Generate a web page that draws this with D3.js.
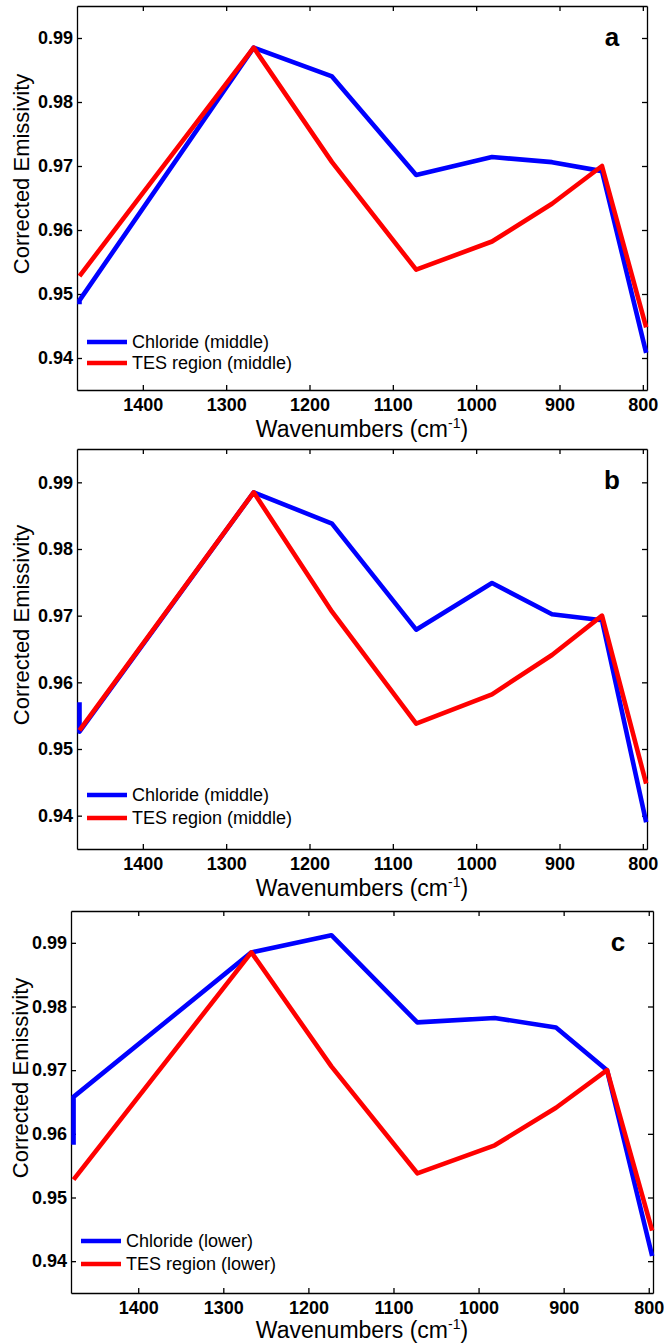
<!DOCTYPE html>
<html>
<head>
<meta charset="utf-8">
<script src="https://cdn.jsdelivr.net/npm/d3@7"></script>
<style>
    body { margin: 0; background: #fff; }
    text { font-family: "Liberation Sans", Arial, Helvetica, sans-serif; fill: #000; }
    .tick text { font-weight: bold; font-size: 18px; }
    .axis path, .axis line { stroke: #000; stroke-width: 1.3; }
</style>
</head>
<body>
<script>
//band centres (cm-1); the chloride curves repeat the first band
var tesWavenumbers = [1476, 1267, 1173, 1072, 981, 909, 849, 796];
var chlorideWavenumbers = [1476, 1476, 1267, 1173, 1072, 981, 909, 849, 796];

//TES region emissivity (same in all three panels)
var tesRegion = [0.9528, 0.9885, 0.9706, 0.9538, 0.9582, 0.9641, 0.9700, 0.9448];

//chloride emissivity per panel
var chlorideA = [0.9484, 0.9490, 0.9885, 0.9840, 0.9686, 0.9714, 0.9706, 0.9692, 0.9408];
var chlorideB = [0.9570, 0.9526, 0.9885, 0.9838, 0.9679, 0.9749, 0.9702, 0.9693, 0.9390];
var chlorideC = [0.9583, 0.9658, 0.9885, 0.9912, 0.9775, 0.9782, 0.9767, 0.9700, 0.9408];

//axis limits and ticks
var xLimits = [1479, 795];
var yLimits = [0.935, 0.995];
var xTicks = [1400, 1300, 1200, 1100, 1000, 900, 800];
var yTicks = [0.94, 0.95, 0.96, 0.97, 0.98, 0.99];

//panel letters and legend entries
var panelLetters = ["a", "b", "c"];
var chlorideLabels = ["Chloride (middle)", "Chloride (middle)", "Chloride (lower)"];
var tesLabels = ["TES region (middle)", "TES region (middle)", "TES region (lower)"];

window.onload = function(){

    var w = 664,
        h = 1343;

    var svg = d3.select("body")
        .append("svg")
        .attr("width", w)
        .attr("height", h);

    //position of each axes box on the page
    var boxes = [
        {left: 77, right: 647, top: 6, bottom: 390, ylab: 29, legend: [342, 363], title: 47},
        {left: 77, right: 647, top: 449, bottom: 849, ylab: 29, legend: [795, 818], title: 47},
        {left: 71, right: 653, top: 911, bottom: 1293, ylab: 28, legend: [1241, 1264], title: 45}
    ];

    var chloride = [chlorideA, chlorideB, chlorideC];

    boxes.forEach(function(b, i){

        var x = d3.scaleLinear()
            .domain(xLimits)
            .range([b.left, b.right]);

        var y = d3.scaleLinear()
            .domain(yLimits)
            .range([b.bottom, b.top]);

        var g = svg.append("g").attr("class", "panel");

        //bottom axis with labels, ticks pointing in
        g.append("g")
            .attr("class", "axis")
            .attr("transform", "translate(0," + b.bottom + ")")
            .call(d3.axisBottom(x).tickValues(xTicks).tickSizeInner(-5).tickSizeOuter(0)
                .tickPadding(8).tickFormat(d3.format("d")));

        //top axis, ticks only
        g.append("g")
            .attr("class", "axis")
            .attr("transform", "translate(0," + b.top + ")")
            .call(d3.axisTop(x).tickValues(xTicks).tickSizeInner(-5).tickSizeOuter(0).tickFormat(""));

        //left axis
        g.append("g")
            .attr("class", "axis")
            .attr("transform", "translate(" + b.left + ",0)")
            .call(d3.axisLeft(y).tickValues(yTicks).tickSizeInner(-5).tickSizeOuter(0)
                .tickPadding(4).tickFormat(d3.format(".2f")));

        //right axis, ticks only
        g.append("g")
            .attr("class", "axis")
            .attr("transform", "translate(" + b.right + ",0)")
            .call(d3.axisRight(y).tickValues(yTicks).tickSizeInner(-5).tickSizeOuter(0).tickFormat(""));

        //lines
        var line = d3.line()
            .x(function(d){ return x(d[0]); })
            .y(function(d){ return y(d[1]); });

        g.append("path")
            .datum(d3.zip(chlorideWavenumbers, chloride[i]))
            .attr("d", line)
            .style("fill", "none")
            .style("stroke", "#0000ff")
            .style("stroke-width", 4.6)
            .style("stroke-linejoin", "round");

        g.append("path")
            .datum(d3.zip(tesWavenumbers, tesRegion))
            .attr("d", line)
            .style("fill", "none")
            .style("stroke", "#ff0000")
            .style("stroke-width", 4.6)
            .style("stroke-linejoin", "round");

        //panel letter
        g.append("text")
            .attr("x", b.right - 35)
            .attr("y", b.top + 40)
            .attr("text-anchor", "middle")
            .style("font-size", "26px")
            .style("font-weight", "bold")
            .text(panelLetters[i]);

        //legend
        var entries = [
            {label: chlorideLabels[i], color: "#0000ff"},
            {label: tesLabels[i], color: "#ff0000"}
        ];
        entries.forEach(function(e, j){
            g.append("line")
                .attr("x1", b.left + 10)
                .attr("x2", b.left + 50)
                .attr("y1", b.legend[j])
                .attr("y2", b.legend[j])
                .style("stroke", e.color)
                .style("stroke-width", 4.6);
            g.append("text")
                .attr("x", b.left + 55)
                .attr("y", b.legend[j] + 6)
                .style("font-size", "18px")
                .text(e.label);
        });

        //y axis title
        g.append("text")
            .attr("transform", "translate(" + b.ylab + "," + ((b.top + b.bottom) / 2 - 24) + ") rotate(-90)")
            .attr("text-anchor", "middle")
            .style("font-size", "22px")
            .text("Corrected Emissivity");

        //x axis title with superscript
        var xt = g.append("text")
            .attr("x", (b.left + b.right) / 2)
            .attr("y", b.bottom + b.title)
            .attr("text-anchor", "middle")
            .style("font-size", "23px");
        xt.append("tspan").text("Wavenumbers (cm");
        xt.append("tspan").attr("dy", -9).style("font-size", "14px").text("-1");
        xt.append("tspan").attr("dy", 9).text(")");
    });
};
</script>
</body>
</html>
